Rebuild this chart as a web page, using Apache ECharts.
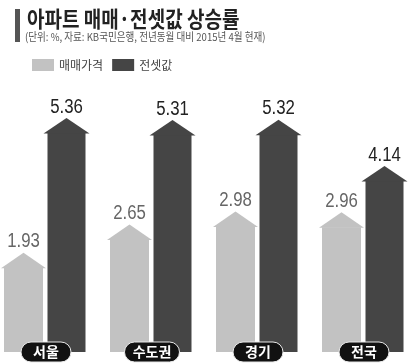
<!DOCTYPE html>
<html>
<head>
<meta charset="utf-8">
<script src="https://cdn.jsdelivr.net/npm/echarts@6/dist/echarts.min.js"></script>
<style>
html,body{margin:0;padding:0;background:#fff;}
#chart{width:408px;height:364px;}
</style>
</head>
<body>
<div id="chart"></div>
<script>
const categories = ['서울', '수도권', '경기', '전국'];
const saleValues = [1.93, 2.65, 2.98, 2.96];
const jeonseValues = [5.36, 5.31, 5.32, 4.14];
const seriesNames = ['매매가격', '전셋값'];
const titleText = '아파트 매매·전셋값 상승률';
const subtitleText = '(단위: %, 자료: KB국민은행, 전년동월 대비 2015년 4월 현재)';

const Y_MIN = -0.6, Y_MAX = 6.0;
const X_MIN = -0.4245, X_MAX = 3.4245;
const LIGHT = '#c2c2c2', DARK = '#454545';

function makeRender(offsetPx, bodyW, headW, headH, textColor) {
  return function (params, api) {
    const idx = api.value(0), v = api.value(1);
    const tip = api.coord([idx, v]);
    const base = api.coord([idx, Y_MIN]);
    const cx = tip[0] + offsetPx;
    const shoulder = tip[1] + headH;
    const color = api.visual('color');
    return {
      type: 'group',
      children: [
        { type: 'rect', shape: { x: cx - bodyW / 2, y: shoulder, width: bodyW, height: base[1] - shoulder }, style: { fill: color } },
        { type: 'polygon', shape: { points: [[cx - headW / 2, shoulder + 0.5], [cx, tip[1]], [cx + headW / 2, shoulder + 0.5]] }, style: { fill: color } },
        { type: 'text', x: cx, y: tip[1] - 11, scaleX: 0.84,
          style: { text: v.toFixed(2), x: 0, y: 0, align: 'center', verticalAlign: 'middle',
          font: '20px "Liberation Sans", Arial, sans-serif', fill: textColor } }
      ]
    };
  };
}

function renderPill(params, api) {
  const idx = api.value(0);
  const name = categories[idx];
  const p = api.coord([idx, Y_MIN]);
  const w = 40 + 5 * name.length;
  return {
    type: 'group',
    children: [
      { type: 'rect', shape: { x: p[0] - w / 2 + 1, y: p[1] - 10, width: w, height: 20, r: 10 },
        style: { fill: '#111', stroke: '#e8e8e8', lineWidth: 1 } },
      { type: 'text', style: { text: name, x: p[0] + 1, y: p[1], align: 'center', verticalAlign: 'middle',
        font: 'bold 14px "Noto Sans CJK KR", sans-serif', fill: '#fff' } }
    ]
  };
}

const chart = echarts.init(document.getElementById('chart'), null, { renderer: 'canvas' });
chart.setOption({
  backgroundColor: '#fff',
  animation: false,
  legend: {
    data: seriesNames,
    left: 27, top: 54,
    icon: 'rect', itemWidth: 22, itemHeight: 12, itemGap: 9,
    textStyle: { fontSize: 12, color: '#444', fontFamily: '"Noto Sans CJK KR", sans-serif' }
  },
  grid: { left: 0, right: 0, top: 93, bottom: 12 },
  xAxis: { type: 'value', min: X_MIN, max: X_MAX, show: false, splitLine: { show: false } },
  yAxis: { type: 'value', min: Y_MIN, max: Y_MAX, show: false, splitLine: { show: false } },
  series: [
    { name: seriesNames[0], type: 'custom', itemStyle: { color: LIGHT }, z: 2,
      renderItem: makeRender(-21.5, 39, 45, 15, '#666'),
      encode: { x: 0, y: 1 },
      data: categories.map((c, i) => [i, saleValues[i]]) },
    { name: seriesNames[1], type: 'custom', itemStyle: { color: DARK }, z: 3,
      renderItem: makeRender(21.5, 38, 46, 15, '#222'),
      encode: { x: 0, y: 1 },
      data: categories.map((c, i) => [i, jeonseValues[i]]) },
    { name: 'categories', type: 'custom', z: 5, silent: true,
      renderItem: renderPill,
      encode: { x: 0, y: 1 },
      data: categories.map((c, i) => [i, Y_MIN]) }
  ],
  graphic: [
    { type: 'rect', shape: { x: 15, y: 9, width: 5, height: 33 }, style: { fill: '#555' } },
    { type: 'text', x: 27, y: 19, scaleX: 0.865, style: { text: titleText, x: 0, y: 0, verticalAlign: 'middle',
      font: 'bold 22px "Noto Sans CJK KR", sans-serif', fill: '#222' } },
    { type: 'text', x: 25, y: 37, scaleX: 0.87, style: { text: subtitleText, x: 0, y: 0, verticalAlign: 'middle',
      font: '11px "Noto Sans CJK KR", sans-serif', fill: '#555' } }
  ]
});
</script>
</body>
</html>
